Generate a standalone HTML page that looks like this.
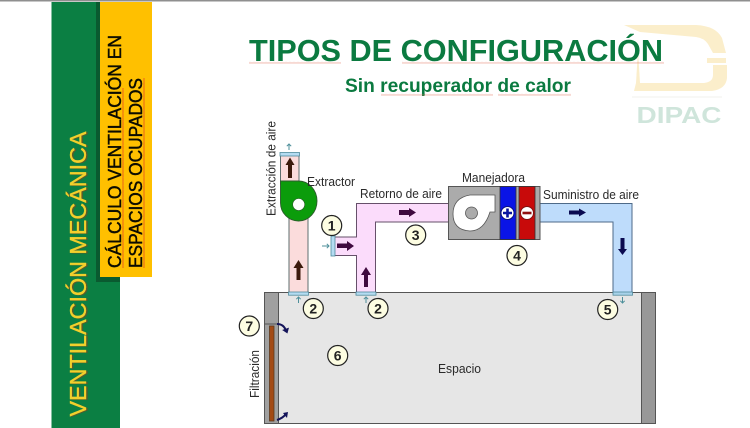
<!DOCTYPE html>
<html>
<head>
<meta charset="utf-8">
<style>
html,body{margin:0;padding:0;background:#fff;width:750px;height:428px;overflow:hidden}
svg{display:block}
text{font-family:"Liberation Sans",sans-serif}
</style>
</head>
<body>
<svg width="750" height="428" viewBox="0 0 750 428" xmlns="http://www.w3.org/2000/svg">
<defs>
<pattern id="w" width="4" height="2" patternUnits="userSpaceOnUse">
<path d="M0 1.6L1 .4L2 1.6L3 .4L4 1.6" fill="none" stroke="#e0705a" stroke-width=".45"/>
</pattern>
<pattern id="wv" width="2" height="4" patternUnits="userSpaceOnUse">
<path d="M.4 0L1.6 1L.4 2L1.6 3L.4 4" fill="none" stroke="#e8541c" stroke-width=".6"/>
</pattern>
</defs>
<rect width="750" height="428" fill="#fff"/>
<rect width="750" height="1.5" fill="#8f8f8f"/>

<!-- logo -->
<g fill="#fbeecb">
<path d="M624 25H696Q716 26 722 38L726 53H713L708 44Q704 38 696 37L640 32Z"/>
<rect x="707" y="58" width="19" height="5"/>
<path d="M713 65H727V78Q726 89 712 91H634L636 83H704Q713 82 713 75Z"/>
<path d="M638 50L640 83H636Z"/>
</g>
<path d="M632 97H722" stroke="#f2f2ee" stroke-width="1"/>
<text x="636.500" y="123" font-size="23" font-weight="700" fill="#cfe5db" textLength="85" lengthAdjust="spacingAndGlyphs">DIPAC</text>

<!-- side bands -->
<rect x="51.5" y="2" width="68.5" height="426" fill="#0b7f43"/>
<rect x="96" y="2" width="24" height="280" fill="#0a5a30"/>
<rect x="100" y="2" width="52" height="275" fill="#ffc000"/>
<text transform="translate(87.5,417) rotate(-90)" font-size="23" fill="#5b5a2a" stroke="#5b5a2a" stroke-width=".3" textLength="285" lengthAdjust="spacingAndGlyphs">VENTILACIÓN MECÁNICA</text>
<text transform="translate(86,416.500) rotate(-90)" font-size="23" fill="#f2d02c" stroke="#f2d02c" stroke-width=".35" textLength="285" lengthAdjust="spacingAndGlyphs">VENTILACIÓN MECÁNICA</text>
<text transform="translate(121,268) rotate(-90)" font-size="18" fill="#0c0c00" stroke="#0c0c00" stroke-width=".45" textLength="233" lengthAdjust="spacingAndGlyphs">CÁLCULO VENTILACIÓN EN</text>
<text transform="translate(142,268) rotate(-90)" font-size="18" fill="#0c0c00" stroke="#0c0c00" stroke-width=".45" textLength="190" lengthAdjust="spacingAndGlyphs">ESPACIOS OCUPADOS</text>
<rect x="122" y="88" width="2" height="180" fill="url(#wv)"/>
<rect x="143" y="78" width="2" height="190" fill="url(#wv)"/>

<!-- titles -->
<text x="249" y="61" font-size="31" font-weight="700" fill="#0b7a40" textLength="414" lengthAdjust="spacingAndGlyphs">TIPOS DE CONFIGURACIÓN</text>
<rect x="249" y="61.500" width="92" height="2" fill="url(#w)"/>
<rect x="402" y="61.500" width="262" height="2" fill="url(#w)"/>
<text x="345" y="92" font-size="19.5" font-weight="700" fill="#0b7a40" textLength="226" lengthAdjust="spacingAndGlyphs">Sin recuperador de calor</text>
<rect x="381" y="93.500" width="112" height="2" fill="url(#w)"/>
<rect x="498" y="93.500" width="73" height="2" fill="url(#w)"/>

<!-- room -->
<rect x="264.5" y="292.5" width="391" height="131" fill="#e6e6e6" stroke="#555" stroke-width="1"/>
<rect x="264.5" y="292.5" width="14" height="131" fill="#a0a0a0" stroke="#555" stroke-width="1"/>
<rect x="641.5" y="292.5" width="14" height="131" fill="#989898" stroke="#555" stroke-width="1"/>
<path d="M264 324H279" stroke="#555" stroke-width="1"/>
<rect x="269.5" y="326" width="4.5" height="95" fill="#a34a14" stroke="#5c3a20" stroke-width=".8"/>
<g fill="none" stroke="#14145a" stroke-width="2">
<path d="M277 324Q284 324 286 331"/>
<path d="M277 420Q283 418 286 414"/>
</g>
<path d="M282 331L288 327V333Z" fill="#14145a" transform="rotate(15 286 331)"/>
<path d="M283 413L288 412L287 418Z" fill="#14145a"/>

<!-- exhaust duct -->
<rect x="289" y="216" width="19" height="77" fill="#fbdcdc" stroke="#5f6f6f" stroke-width="1"/>
<rect x="280.5" y="154" width="18.5" height="30" fill="#fbdcdc" stroke="#5f6f6f" stroke-width="1"/>
<rect x="280" y="152.5" width="19.5" height="3.5" fill="#b5dcf2" stroke="#4f8a9c" stroke-width=".8"/>
<rect x="288.5" y="292" width="20" height="3.2" fill="#b5dcf2" stroke="#4f8a9c" stroke-width=".8"/>
<path d="M280.500 181H298.500A18.500 20 0 0 1 298.500 221A18 18 0 0 1 280.500 203Z" fill="#0b9c0b" stroke="#2c5a2c" stroke-width=".9"/>
<circle cx="298.700" cy="204.500" r="6" fill="#fff" stroke="#2c5a2c" stroke-width=".6"/>

<!-- return duct -->
<path d="M333 237H356.5V203.5H449V222H375.5V293H356.5V255.5H333Z" fill="#fbdcfb" stroke="#66506a" stroke-width="1"/>
<rect x="331" y="236" width="4" height="20" fill="#b5dcf2" stroke="#4f8a9c" stroke-width=".8"/>
<rect x="356" y="292" width="20" height="3.2" fill="#b5dcf2" stroke="#4f8a9c" stroke-width=".8"/>

<!-- supply duct -->
<path d="M540 203.5H632V293H613V222H540Z" fill="#bedcfb" stroke="#4e6a88" stroke-width="1"/>
<rect x="613" y="292" width="19.5" height="3.2" fill="#a8d2ea" stroke="#4f8a9c" stroke-width=".8"/>

<!-- AHU -->
<rect x="448.5" y="186.5" width="91.5" height="53" fill="#ababab" stroke="#555" stroke-width="1"/>
<rect x="500" y="186.5" width="16" height="53" fill="#0a14e6" stroke="#333" stroke-width=".8"/>
<rect x="519" y="186.5" width="16" height="53" fill="#c80a0a" stroke="#333" stroke-width=".8"/>
<path d="M495 195V212H490Q484 231 470 231Q453 230 453 214Q453 198 470 195Z" fill="#fff" stroke="#555" stroke-width=".8"/>
<circle cx="471.5" cy="213" r="6" fill="#ababab" stroke="#555" stroke-width=".8"/>
<circle cx="507.5" cy="213" r="6.5" fill="#fff" stroke="#0a1080" stroke-width="1"/>
<path d="M503 213H512M507.5 208.500V217.500" stroke="#0a14a0" stroke-width="2.6"/>
<circle cx="527" cy="213" r="6.5" fill="#fff" stroke="#801010" stroke-width="1"/>
<path d="M522.5 213H531.5" stroke="#901010" stroke-width="2.6"/>

<!-- flow arrows -->
<g fill="#3c1a0c">
<path d="M288 178V165H285.500L290 157.500L294.500 165H292V178Z"/>
<path d="M296.500 280V268H293.500L298.500 260L303.500 268H300.500V280Z"/>
</g>
<g fill="#3f0a3f">
<path d="M337 243.500H347V241L354 246L347 251V248H337Z"/>
<path d="M364 287V275H361L366 267L371 275H368V287Z"/>
<path d="M399 210H409V208L416 212.500L409 217V215H399Z"/>
</g>
<g fill="#0a0a50">
<path d="M569 210.500H579V208.500L586 212.500L579 216.500V214.500H569Z"/>
<path d="M620.500 238V249H618L622.500 255L627 249H624.500V238Z"/>
</g>
<g stroke="#4d8f9a" stroke-width="1" fill="none">
<path d="M289 150V144M286.800 146.200L289 144L291.200 146.200"/>
<path d="M298.500 303V297M296.300 299.200L298.500 297L300.700 299.200"/>
<path d="M366 303V297M363.800 299.200L366 297L368.200 299.200"/>
<path d="M322 246H329M326.800 243.800L329 246L326.800 248.200"/>
<path d="M622.500 297V303M620.300 300.800L622.500 303L624.700 300.800"/>
</g>

<!-- circles -->
<g fill="#fdfde2" stroke="#222" stroke-width="1.200">
<circle cx="331.700" cy="225.500" r="10"/>
<circle cx="415.700" cy="235" r="10"/>
<circle cx="313.300" cy="308.500" r="10"/>
<circle cx="378" cy="308.500" r="10"/>
<circle cx="517" cy="255.500" r="10"/>
<circle cx="607.700" cy="309.500" r="10"/>
<circle cx="249.300" cy="326" r="10"/>
<circle cx="337.700" cy="355.500" r="10"/>
</g>
<g font-size="14" font-weight="700" fill="#222" text-anchor="middle">
<text x="331.700" y="230.500">1</text>
<text x="415.700" y="240">3</text>
<text x="313.300" y="313.500">2</text>
<text x="378" y="313.500">2</text>
<text x="517" y="260.500">4</text>
<text x="607.700" y="314.500">5</text>
<text x="249.300" y="331">7</text>
<text x="337.700" y="360.500">6</text>
</g>

<!-- labels -->
<g font-size="12.500" fill="#2a2a2a">
<text x="307" y="186" textLength="48" lengthAdjust="spacingAndGlyphs">Extractor</text>
<text x="360" y="198" textLength="82" lengthAdjust="spacingAndGlyphs">Retorno de aire</text>
<text x="462" y="182" textLength="63" lengthAdjust="spacingAndGlyphs">Manejadora</text>
<text x="543" y="199" textLength="96" lengthAdjust="spacingAndGlyphs">Suministro de aire</text>
<text x="438" y="373" textLength="43" lengthAdjust="spacingAndGlyphs">Espacio</text>
<text transform="translate(275.500,216) rotate(-90)" textLength="95" lengthAdjust="spacingAndGlyphs">Extracción de aire</text>
<text transform="translate(259,398) rotate(-90)" textLength="48" lengthAdjust="spacingAndGlyphs">Filtración</text>
</g>
</svg>
</body>
</html>
